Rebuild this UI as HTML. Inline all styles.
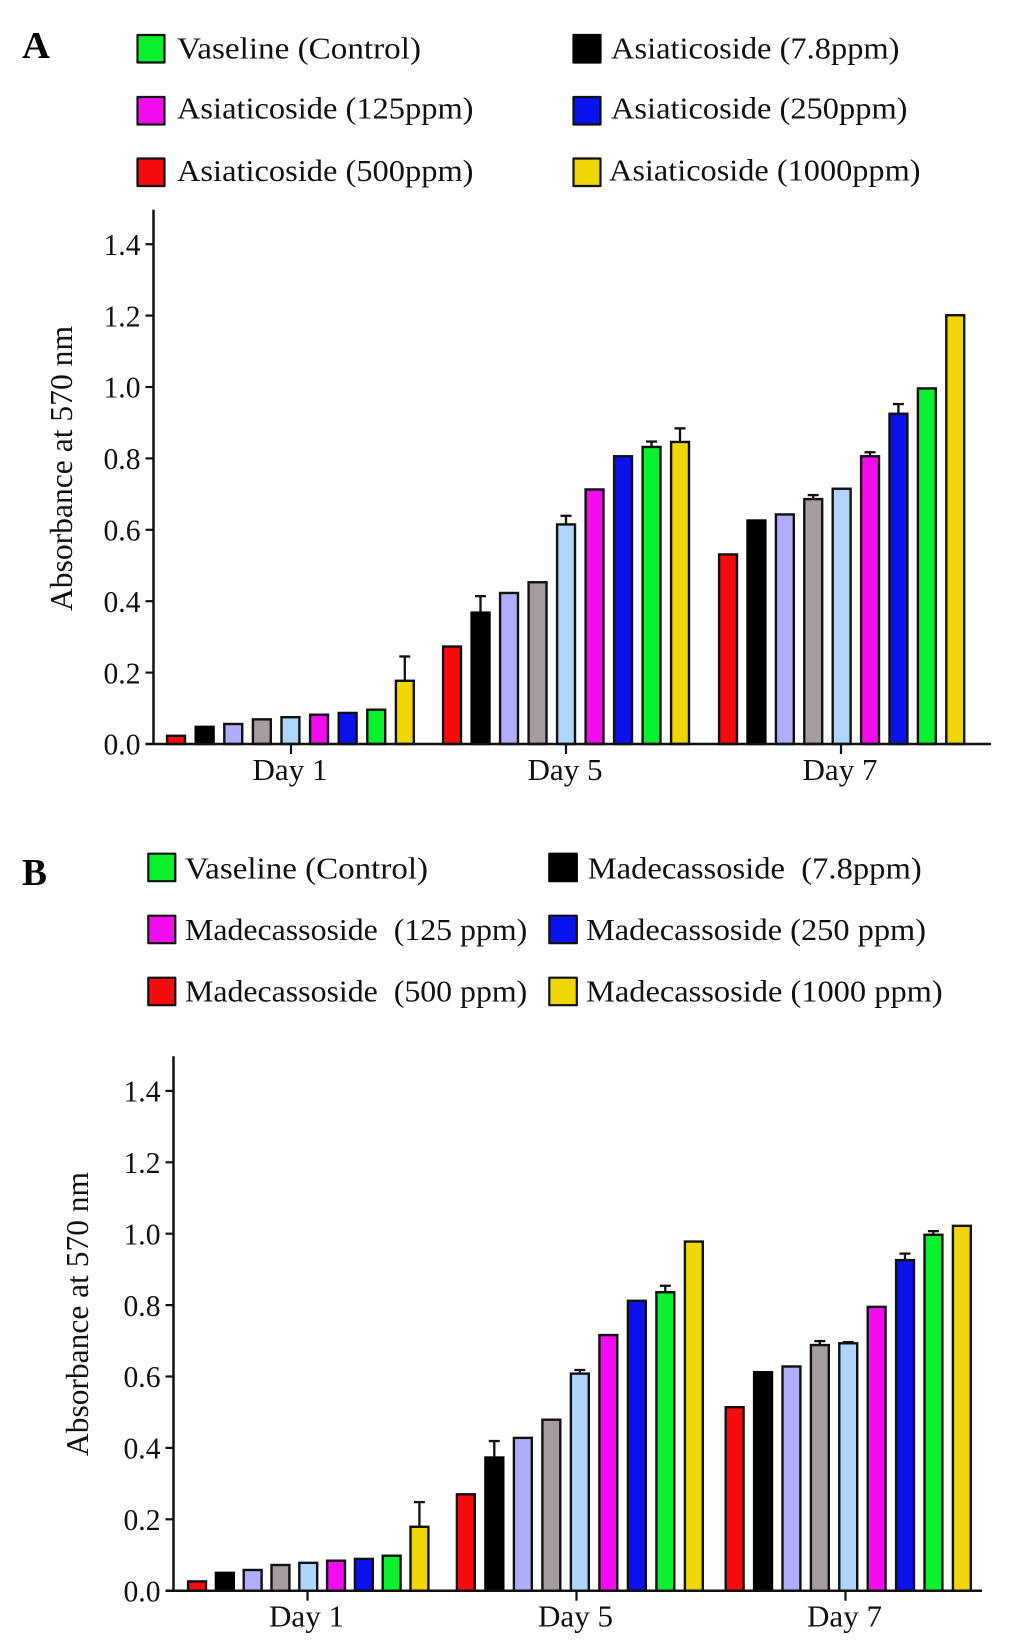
<!DOCTYPE html>
<html lang="en">
<head>
<meta charset="utf-8">
<title>Absorbance at 570 nm: Asiaticoside and Madecassoside</title>
<style>
html,body{margin:0;padding:0;background:#fff;}
svg{display:block;width:1033px;height:1640px;}
text{font-family:"Liberation Serif",serif;fill:#111;}
.lg{font-size:31px;}
.pl{font-size:38px;font-weight:bold;fill:#000;}
</style>
</head>
<body>
<svg id="fig" xmlns="http://www.w3.org/2000/svg" width="1033" height="1640" viewBox="0 0 1033 1640">
<rect x="0" y="0" width="1033" height="1640" fill="#fff"/>

<text class="pl" x="22" y="58" textLength="28" lengthAdjust="spacingAndGlyphs">A</text>
<g stroke-linejoin="round">
<g><rect x="137.5" y="35" width="27" height="27.5" fill="#0af02f" stroke="#111" stroke-width="2.2"/><text class="lg" x="177" y="58.3" textLength="244" lengthAdjust="spacingAndGlyphs">Vaseline (Control)</text></g>
<g><rect x="137.5" y="97" width="27" height="27.5" fill="#f20cee" stroke="#111" stroke-width="2.2"/><text class="lg" x="177" y="118.5" textLength="296.5" lengthAdjust="spacingAndGlyphs">Asiaticoside (125ppm)</text></g>
<g><rect x="137.5" y="158.5" width="27" height="27.5" fill="#f50c0c" stroke="#111" stroke-width="2.2"/><text class="lg" x="177" y="181" textLength="296.5" lengthAdjust="spacingAndGlyphs">Asiaticoside (500ppm)</text></g>
<g><rect x="573.5" y="35" width="27" height="27.5" fill="#000" stroke="#000" stroke-width="2.2"/><text class="lg" x="611" y="58.3" textLength="288.5" lengthAdjust="spacingAndGlyphs">Asiaticoside (7.8ppm)</text></g>
<g><rect x="573.5" y="97" width="27" height="27.5" fill="#0a12ee" stroke="#111" stroke-width="2.2"/><text class="lg" x="611" y="118.5" textLength="296.5" lengthAdjust="spacingAndGlyphs">Asiaticoside (250ppm)</text></g>
<g><rect x="573.5" y="158.5" width="27" height="27.5" fill="#efd604" stroke="#111" stroke-width="2.2"/><text class="lg" x="609" y="180.3" textLength="311.5" lengthAdjust="spacingAndGlyphs">Asiaticoside (1000ppm)</text></g>
</g>
<text style="font-size:32px" transform="translate(72,611) rotate(-90)" x="0" y="0" textLength="285" lengthAdjust="spacingAndGlyphs">Absorbance at 570 nm</text>
<g id="chartA"></g>

<text class="pl" x="22" y="885" textLength="25" lengthAdjust="spacingAndGlyphs">B</text>
<g stroke-linejoin="round">
<g><rect x="148.3" y="853.7" width="27" height="27.5" fill="#0af02f" stroke="#111" stroke-width="2.2"/><text class="lg" x="185" y="878.3" textLength="243" lengthAdjust="spacingAndGlyphs">Vaseline (Control)</text></g>
<g><rect x="148.3" y="915.7" width="27" height="27.5" fill="#f20cee" stroke="#111" stroke-width="2.2"/><text class="lg" x="185" y="940" textLength="342.3" lengthAdjust="spacingAndGlyphs" xml:space="preserve">Madecassoside  (125 ppm)</text></g>
<g><rect x="148.3" y="977.7" width="27" height="27.5" fill="#f50c0c" stroke="#111" stroke-width="2.2"/><text class="lg" x="185" y="1001.3" textLength="342.3" lengthAdjust="spacingAndGlyphs" xml:space="preserve">Madecassoside  (500 ppm)</text></g>
<g><rect x="549.3" y="853.7" width="27.5" height="27.5" fill="#000" stroke="#000" stroke-width="2.2"/><text class="lg" x="587.7" y="878.3" textLength="334" lengthAdjust="spacingAndGlyphs" xml:space="preserve">Madecassoside  (7.8ppm)</text></g>
<g><rect x="549.3" y="915.7" width="27.5" height="27.5" fill="#0a12ee" stroke="#111" stroke-width="2.2"/><text class="lg" x="586" y="940" textLength="340" lengthAdjust="spacingAndGlyphs">Madecassoside (250 ppm)</text></g>
<g><rect x="549.3" y="977.7" width="27.5" height="27.5" fill="#efd604" stroke="#111" stroke-width="2.2"/><text class="lg" x="586" y="1001.3" textLength="356.7" lengthAdjust="spacingAndGlyphs">Madecassoside (1000 ppm)</text></g>
</g>
<text style="font-size:32px" transform="translate(88,1456) rotate(-90)" x="0" y="0" textLength="284" lengthAdjust="spacingAndGlyphs">Absorbance at 570 nm</text>
<g id="chartB"></g>
</svg>

<script>
// Shared categories and series
const categories = ["Day 1", "Day 5", "Day 7"];
const seriesKeys = ["500ppm", "7-8ppm", "lavender", "gray", "light-blue", "125ppm", "250ppm", "control", "1000ppm"];
const seriesColors = ["#f50c0c", "#000000", "#b0aefa", "#a59c9f", "#aed6fc", "#f20cee", "#0a12ee", "#0af02f", "#efd604"];
const yTickLabels = ["0.0", "0.2", "0.4", "0.6", "0.8", "1.0", "1.2", "1.4"];

// Panel A bar heights (absorbance), one array per day
const aDay1 = [0.025, 0.050, 0.058, 0.071, 0.077, 0.084, 0.089, 0.098, 0.179];
const aDay5 = [0.275, 0.370, 0.425, 0.455, 0.617, 0.715, 0.808, 0.834, 0.848];
const aDay7 = [0.533, 0.628, 0.645, 0.688, 0.717, 0.808, 0.927, 0.998, 1.203];
// Panel A upper error
const aErr1 = [0, 0, 0, 0, 0, 0, 0, 0, 0.069];
const aErr5 = [0, 0.047, 0, 0, 0.025, 0, 0, 0.016, 0.039];
const aErr7 = [0, 0, 0, 0.012, 0, 0.012, 0.028, 0, 0];

// Panel B bar heights (absorbance), one array per day
const bDay1 = [0.028, 0.052, 0.060, 0.074, 0.080, 0.086, 0.091, 0.100, 0.181];
const bDay5 = [0.272, 0.375, 0.430, 0.481, 0.610, 0.718, 0.814, 0.838, 0.980];
const bDay7 = [0.516, 0.614, 0.630, 0.690, 0.695, 0.797, 0.928, 0.999, 1.024];
// Panel B upper error
const bErr1 = [0, 0, 0, 0, 0, 0, 0, 0, 0.070];
const bErr5 = [0, 0.047, 0, 0, 0.011, 0, 0, 0.019, 0];
const bErr7 = [0, 0, 0, 0.012, 0.004, 0, 0.019, 0.011, 0];

const NS = "http://www.w3.org/2000/svg";
const INK = "#111";

function make(parent, tag, attrs, text) {
  const el = document.createElementNS(NS, tag);
  for (const k in attrs) el.setAttribute(k, attrs[k]);
  if (text !== undefined) el.textContent = text;
  parent.appendChild(el);
  return el;
}

function drawChart(root, panel, g, values, errors) {
  // axis functions
  const y = v => g.baseY - v * g.unit;
  const barX = (day, s) => g.barStart + day * g.groupStep + s * g.barStep[day];
  const tickX = day => g.tickStart + day * g.tickStep;

  values.forEach((dayValues, d) => {
    dayValues.forEach((v, s) => {
      const cx = barX(d, s) + 10;
      const err = errors[d][s];
      if (err > 0) {
        const top = y(v + err);
        const stem = make(root, "line", {x1: cx, x2: cx, y1: y(v), y2: top + 1, stroke: INK, "stroke-width": 2.3});
        
        
        const cap = make(root, "line", {x1: cx - 5.5, x2: cx + 5.5, y1: top + 1, y2: top + 1, stroke: INK, "stroke-width": 2.3});
        
        
      }
      const bar = make(root, "rect", {
        x: barX(d, s) + 1.1, y: y(v) + 0.7, width: 17.9, height: Math.max(0, g.baseY - y(v) - 0.7),
        fill: seriesColors[s], stroke: s === 1 ? "#000" : INK, "stroke-width": 2.4
      });
      
      
    });
  });

  // y axis
  const yAxis = make(root, "line", {x1: g.axisX, x2: g.axisX, y1: y(g.yMax), y2: g.baseY + 1, stroke: INK, "stroke-width": 2.5});
  
  

  yTickLabels.forEach(lbl => {
    const v = parseFloat(lbl);
    const tick = make(root, "line", {x1: g.axisX - 8, x2: g.axisX, y1: y(v), y2: y(v), stroke: INK, "stroke-width": 2.2});
    
    
    const t = make(root, "text", {
      x: g.axisX - 50, y: y(v) + 10.7, textLength: 37, lengthAdjust: "spacingAndGlyphs", style: "font-size:31px"
    }, lbl);
    
    
  });

  // x axis
  const xAxis = make(root, "line", {x1: g.axisX - 8, x2: g.axisEnd, y1: g.baseY, y2: g.baseY, stroke: INK, "stroke-width": 2.5});
  
  

  categories.forEach((c, d) => {
    const tick = make(root, "line", {x1: tickX(d), x2: tickX(d), y1: g.baseY, y2: g.baseY + 10, stroke: INK, "stroke-width": 2.2});
    
    
    const t = make(root, "text", {
      x: tickX(d) + g.labelDx - 37.5, y: g.baseY + 36, textLength: 75, lengthAdjust: "spacingAndGlyphs", style: "font-size:31px"
    }, c);
    
    
  });
}

drawChart(document.getElementById("chartA"), "a",
  {baseY: 744, unit: 357, yMax: 1.497, axisX: 153.5, axisEnd: 991, barStart: 166, groupStep: 276, barStep: [28.6, 28.5, 28.4], tickStart: 291, tickStep: 275, labelDx: -1},
  [aDay1, aDay5, aDay7], [aErr1, aErr5, aErr7]);

drawChart(document.getElementById("chartB"), "b",
  {baseY: 1590.7, unit: 357, yMax: 1.497, axisX: 173.5, axisEnd: 982, barStart: 187, groupStep: 268.8, barStep: [27.8, 28.5, 28.4], tickStart: 307.5, tickStep: 269, labelDx: -1},
  [bDay1, bDay5, bDay7], [bErr1, bErr5, bErr7]);
</script>
</body>
</html>
